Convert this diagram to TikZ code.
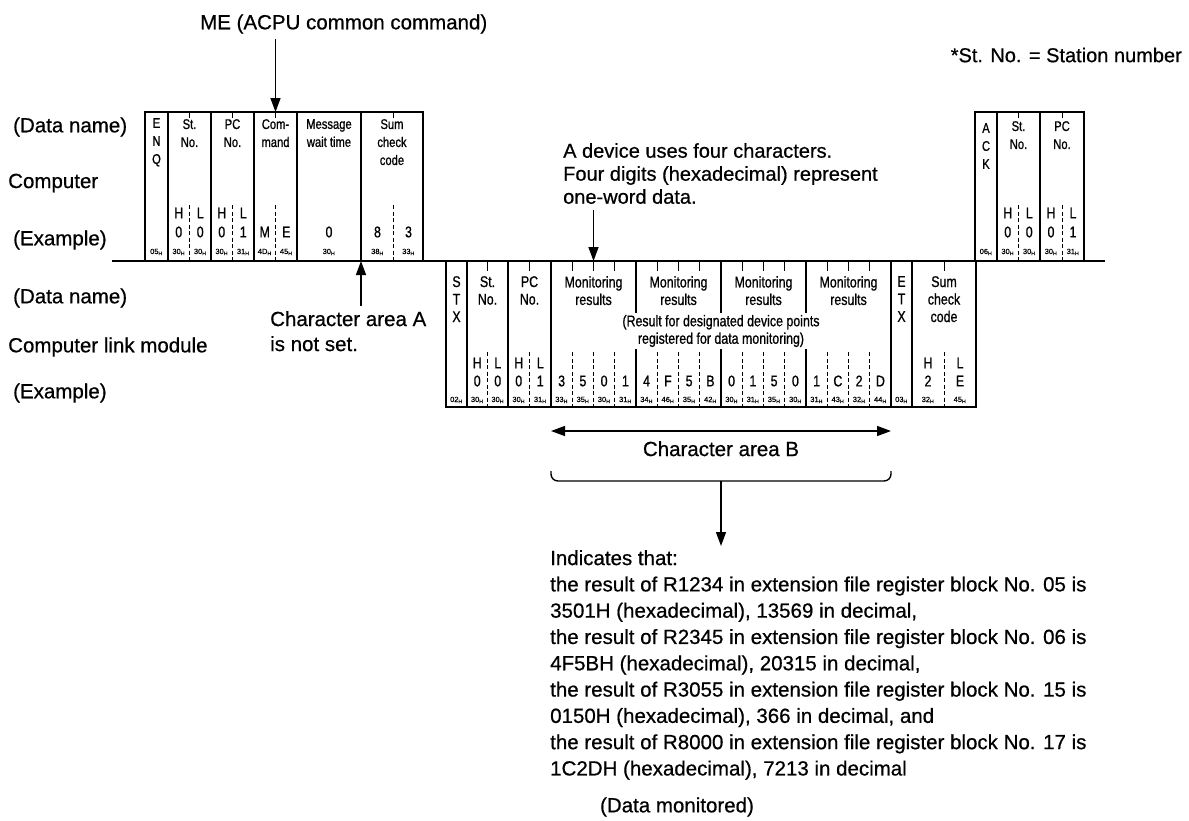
\documentclass[tikz,border=0pt]{standalone}
\usepackage{fontspec}
\setmainfont[FakeBold=0.6]{Liberation Sans}
\newfontfamily\narrowfont[FakeStretch=0.8, FakeBold=0.9]{Liberation Sans}
\usetikzlibrary{
    positioning,
    calc,
    arrows.meta
}
\newcommand{\hexc}[1]{#1\textsubscript{H}}
\tikzset{
    >=Stealth,
    cell/.style={
        draw,
        line width=1.4pt,
        inner sep=0pt,
        outer sep=0pt,
        minimum height=149pt,
        anchor=north west
    },
    lbl/.style={font=\fontsize{20.5}{25}\selectfont, inner sep=0pt},
    cname/.style={font=\narrowfont\fontsize{14}{18}\selectfont, align=center, inner sep=0pt},
    cnameB/.style={font=\narrowfont\fontsize{15.5}{17.5}\selectfont, align=center, inner sep=0pt},
    ch/.style={font=\narrowfont\fontsize{15.5}{17}\selectfont, inner sep=0pt},
    hx/.style={font=\fontsize{7.5}{8}\selectfont, inner sep=0pt},
    sep/.style={line width=1pt, dash pattern=on 4pt off 2.5pt},
    tick/.style={line width=1pt},
    arr/.style={-{Triangle[length=14pt,width=10pt]}, line width=1.4pt}
}

\begin{document}
\begin{tikzpicture}[x=1pt, y=-1pt]
    \useasboundingbox (0,0) rectangle (1189,820);

    % Rotulos de la izquierda
    \node[lbl, anchor=west] (dn1) at (13,127) {(Data name)};
    \node[lbl, anchor=west] (comp) at (8,183) {Computer};
    \node[lbl, anchor=west] (ex1) at (13,240) {(Example)};
    \node[lbl, anchor=west] (dn2) at (13,298) {(Data name)};
    \node[lbl, anchor=west] (clm) at (8,347) {Computer link module};
    \node[lbl, anchor=west] (ex2) at (13,393) {(Example)};

    % Trama del ordenador
    \node[cell, minimum width=23pt] (enq) at (145,112) {};
    \node[cell, minimum width=43pt, right=0pt of enq] (stA) {};
    \node[cell, minimum width=43pt, right=0pt of stA] (pcA) {};
    \node[cell, minimum width=43pt, right=0pt of pcA] (cmd) {};
    \node[cell, minimum width=64pt, right=0pt of cmd] (msg) {};
    \node[cell, minimum width=62pt, right=0pt of msg] (sumA) {};

    \node[cname, below=6pt of enq.north] (enqn) {E\\N\\Q};
    \node[cname, below=7pt of stA.north] (stAn) {St.\\No.};
    \node[cname, below=7pt of pcA.north] (pcAn) {PC\\No.};
    \node[cname, below=7pt of cmd.north] (cmdn) {Com-\\mand};
    \node[cname, below=7pt of msg.north] (msgn) {Message\\wait time};
    \node[cname, below=7pt of sumA.north] (sumAn) {Sum\\check\\code};

    % Respuesta ACK
    \node[cell, minimum width=22pt] (ack) at (975,112) {};
    \node[cell, minimum width=43pt, right=0pt of ack] (stC) {};
    \node[cell, minimum width=44pt, right=0pt of stC] (pcC) {};

    \node[cname, below=11pt of ack.north] (ackn) {A\\C\\K};
    \node[cname, below=9pt of stC.north] (stCn) {St.\\No.};
    \node[cname, below=9pt of pcC.north] (pcCn) {PC\\No.};

    % Trama del modulo
    \node[cell, minimum height=146pt, minimum width=21pt] (stx) at (446,261) {};
    \node[cell, minimum height=146pt, minimum width=41pt, right=0pt of stx] (stB) {};
    \node[cell, minimum height=146pt, minimum width=43pt, right=0pt of stB] (pcB) {};
    \node[cell, minimum height=146pt, minimum width=85pt, right=0pt of pcB] (m1) {};
    \node[cell, minimum height=146pt, minimum width=85pt, right=0pt of m1] (m2) {};
    \node[cell, minimum height=146pt, minimum width=85pt, right=0pt of m2] (m3) {};
    \node[cell, minimum height=146pt, minimum width=85pt, right=0pt of m3] (m4) {};
    \node[cell, minimum height=146pt, minimum width=21pt, right=0pt of m4] (etx) {};
    \node[cell, minimum height=146pt, minimum width=64pt, right=0pt of etx] (sumB) {};

    \node[cnameB, below=15pt of stx.north] (stxn) {S\\T\\X};
    \node[cnameB, below=15pt of stB.north] (stBn) {St.\\No.};
    \node[cnameB, below=15pt of pcB.north] (pcBn) {PC\\No.};
    \node[cnameB, below=15pt of m1.north] (m1n) {Monitoring\\results};
    \node[cnameB, below=15pt of m2.north] (m2n) {Monitoring\\results};
    \node[cnameB, below=15pt of m3.north] (m3n) {Monitoring\\results};
    \node[cnameB, below=15pt of m4.north] (m4n) {Monitoring\\results};
    \node[cnameB, below=15pt of etx.north] (etxn) {E\\T\\X};
    \node[cnameB, below=15pt of sumB.north] (sumBn) {Sum\\check\\code};

    % Linea de tiempo
    \coordinate (tl0) at (112,261);
    \coordinate (tl1) at (1105,261);
    \draw[line width=1.4pt] (tl0) -- (tl1);

    % Separadores
    \foreach \x in {189.5,232.5,275.5,393,1018.5,1062} {
        \draw[tick] (\x,112) -- (\x,118);
        \draw[sep] (\x,205) -- (\x,261);
    }
    \foreach \x in {487.5,529.5,572.25,593.5,614.75,657.25,678.5,699.75,
                    742.25,763.5,784.75,827.25,848.5,869.75,944} {
        \draw[tick] (\x,261) -- (\x,271);
        \draw[sep] (\x,352) -- (\x,407);
    }

    \node[cnameB, fill=white, inner sep=2pt] (resn) at (721,331)
        {(Result for designated device points\\registered for data monitoring)};

    % H / L
    \foreach \x/\t [count=\i] in {178.75/H,200.25/L,221.75/H,243.25/L,
                                  1007.75/H,1029.25/L,1051/H,1073/L}
        \node[ch] (hlA\i) at (\x,213) {\t};
    \foreach \x/\t [count=\i] in {477.25/H,497.75/L,518.75/H,540.25/L,928/H,960/L}
        \node[ch] (hlB\i) at (\x,363) {\t};

    % Caracteres
    \foreach \x/\t [count=\i] in {178.75/0,200.25/0,221.75/0,243.25/1,264.75/M,
                                  286.25/E,329/0,377.5/8,408.5/3,
                                  1007.75/0,1029.25/0,1051/0,1073/1}
        \node[ch] (chA\i) at (\x,232) {\t};
    \foreach \x/\t [count=\i] in {477.25/0,497.75/0,518.75/0,540.25/1,
                                  561.6/3,582.9/5,604.1/0,625.4/1,
                                  646.6/4,667.9/F,689.1/5,710.4/B,
                                  731.6/0,752.9/1,774.1/5,795.4/0,
                                  816.6/1,837.9/C,859.1/2,880.4/D,928/2,960/E}
        \node[ch] (chB\i) at (\x,381) {\t};

    % Codigos
    \foreach \x/\t [count=\i] in {156.5/05,178.75/30,200.25/30,221.75/30,243.25/31,
                                  264.75/4D,286.25/45,329/30,377.5/38,408.5/33,
                                  986/06,1007.75/30,1029.25/30,1051/30,1073/31}
        \node[hx] (hxA\i) at (\x,252) {\hexc{\t}};
    \foreach \x/\t [count=\i] in {456.5/02,477.25/30,497.75/30,518.75/30,540.25/31,
                                  561.6/33,582.9/35,604.1/30,625.4/31,
                                  646.6/34,667.9/46,689.1/35,710.4/42,
                                  731.6/30,752.9/31,774.1/35,795.4/30,
                                  816.6/31,837.9/43,859.1/32,880.4/44,
                                  901.5/03,928/32,960/45}
        \node[hx] (hxB\i) at (\x,400) {\hexc{\t}};

    % Notas y flechas
    \node[lbl, anchor=west] (me) at (200,24) {ME (ACPU common command)};
    \draw[arr, shorten <=5pt] (me.south -| cmd.north) -- (cmd.north);

    \node[lbl, anchor=east, font=\fontsize{20}{25}\selectfont] (stnote) at (1182,55)
        {*St. No. = Station number};

    \node[lbl, anchor=north west, align=left, font=\fontsize{20}{23}\selectfont] (dev) at (563,143)
        {A device uses four characters.\\Four digits (hexadecimal) represent\\one-word data.};
    \draw[arr, shorten <=6pt] (dev.south -| m1.north) -- (m1.north);

    \node[lbl, anchor=north west, align=left] (areaA) at (270,311)
        {Character area A\\is not set.};
    \draw[arr, shorten <=5pt] (areaA.north -| msg.south east) -- (msg.south east);

    \coordinate[below=24pt of m1.south west] (cbL);
    \coordinate[below=24pt of m4.south east] (cbR);
    \draw[{Triangle[length=14pt,width=10pt]}-{Triangle[length=14pt,width=10pt]}, line width=1.4pt]
        (cbL) -- (cbR);
    \node[lbl, below=10pt of $(cbL)!0.5!(cbR)$] (areaB) {Character area B};

    \coordinate[below=40pt of cbL] (brL);
    \coordinate[below=40pt of cbR] (brR);
    \draw[line width=1.4pt, rounded corners=7pt] (brL) -- ++(0,10) -| (brR);
    \coordinate (brM) at ($(brL)!0.5!(brR)+(0,10)$);

    \node[lbl, anchor=north west, align=left, font=\fontsize{20.5}{26.3}\selectfont] (res) at (550,550)
        {Indicates that:\\
         the result of R1234 in extension file register block No. 05 is\\
         3501H (hexadecimal), 13569 in decimal,\\
         the result of R2345 in extension file register block No. 06 is\\
         4F5BH (hexadecimal), 20315 in decimal,\\
         the result of R3055 in extension file register block No. 15 is\\
         0150H (hexadecimal), 366 in decimal, and\\
         the result of R8000 in extension file register block No. 17 is\\
         1C2DH (hexadecimal), 7213 in decimal};
    \draw[arr, shorten >=4pt] (brM) -- (brM |- res.north);

    \node[lbl] (mon) at (677,807) {(Data monitored)};

\end{tikzpicture}
\end{document}
